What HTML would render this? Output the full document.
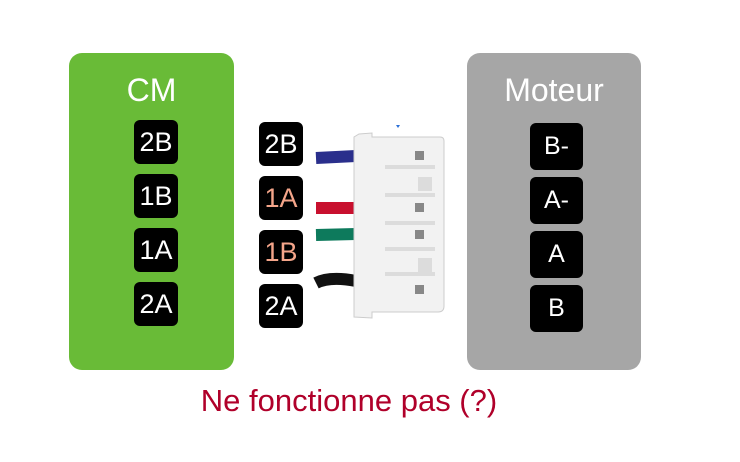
<!DOCTYPE html>
<html><head><style>
body{margin:0;width:740px;height:462px;background:#fff;position:relative;overflow:hidden;font-family:"Liberation Sans",Arial,sans-serif}
.box{position:absolute;border-radius:13px}
.t{position:absolute;color:#fff;text-align:center}
.l{position:absolute;background:#000;color:#fff;border-radius:6px;text-align:center;font-size:27px}
.p{color:#f4a58a}
</style></head><body>
<div class="box" style="left:69px;top:53px;width:165px;height:317px;background:#69bb37"></div>
<div class="box" style="left:467px;top:53px;width:174px;height:317px;background:#a6a6a6"></div>
<div class="t" style="left:69px;width:165px;top:72px;font-size:32px">CM</div>
<div class="t" style="left:467px;width:174px;top:72px;font-size:32px">Moteur</div>

<div class="l" style="left:134px;top:120px;width:44px;height:44px;line-height:44px">2B</div>
<div class="l" style="left:134px;top:174px;width:44px;height:44px;line-height:44px">1B</div>
<div class="l" style="left:134px;top:228px;width:44px;height:44px;line-height:44px">1A</div>
<div class="l" style="left:134px;top:282px;width:44px;height:44px;line-height:44px">2A</div>

<div class="l" style="left:259px;top:122px;width:44px;height:44px;line-height:44px">2B</div>
<div class="l p" style="left:259px;top:176px;width:44px;height:44px;line-height:44px">1A</div>
<div class="l p" style="left:259px;top:230px;width:44px;height:44px;line-height:44px">1B</div>
<div class="l" style="left:259px;top:284px;width:44px;height:44px;line-height:44px">2A</div>

<div class="l" style="left:530px;top:123px;width:53px;height:47px;line-height:47px;font-size:25px">B-</div>
<div class="l" style="left:530px;top:177px;width:53px;height:47px;line-height:47px;font-size:25px">A-</div>
<div class="l" style="left:530px;top:231px;width:53px;height:47px;line-height:47px;font-size:25px">A</div>
<div class="l" style="left:530px;top:285px;width:53px;height:47px;line-height:47px;font-size:25px">B</div>

<svg style="position:absolute;left:0;top:0" width="740" height="462">
<g stroke-width="12" fill="none" stroke-linecap="butt">
<path d="M316 158 L356 156" stroke="#2a2f8c"/>
<path d="M316 208 L356 208" stroke="#c8102e"/>
<path d="M316 235 L356 234" stroke="#0d7a5c"/>
<path d="M316 283 Q330 276 356 281" stroke="#111"/>
</g>
<path d="M359 134 L372 133 L372 137 L440 137 Q444 137 444 141 L444 306 Q444 312 438 312 L372 312 L372 318 L354 317 L354 137 Z" fill="#f2f2f2" stroke="#ccc"/>
<g fill="#dcdcdc">
<rect x="385" y="165" width="50" height="4"/>
<rect x="385" y="193" width="50" height="4"/>
<rect x="385" y="221" width="50" height="4"/>
<rect x="385" y="247" width="50" height="4"/>
<rect x="385" y="272" width="50" height="4"/>
<rect x="418" y="177" width="14" height="14"/>
<rect x="418" y="258" width="14" height="14"/>
</g>
<g fill="#888">
<rect x="415" y="151" width="9" height="9"/>
<rect x="415" y="203" width="9" height="9"/>
<rect x="415" y="230" width="9" height="9"/>
<rect x="415" y="285" width="9" height="9"/>
</g>
<path d="M396 125 L400 125 L398 128 Z" fill="#2a6fd6"/>
</svg>
<div style="position:absolute;left:0;width:698px;top:383px;text-align:center;font-size:31px;color:#b0002a">Ne fonctionne pas (?)</div>
</body></html>
